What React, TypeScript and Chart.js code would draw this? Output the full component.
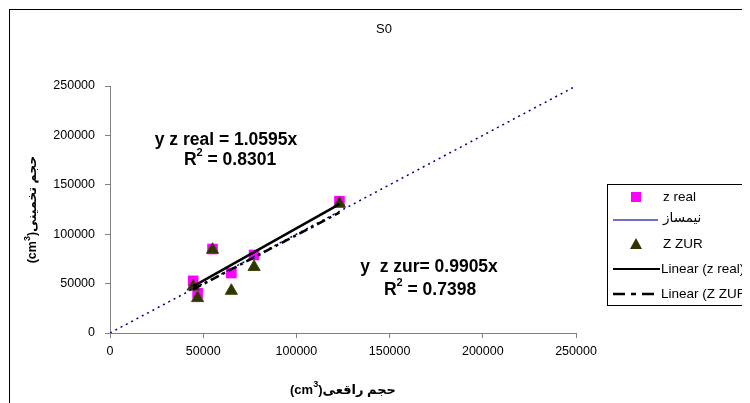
import React, { useEffect, useRef } from "react";
import { Chart, registerables } from "chart.js";

Chart.register(...registerables);

// ---- data ----
const realVolume = [44600, 47000, 55000, 65100, 77300, 123100];
const zRealValues = [52800, 40300, 85000, 60700, 79000, 133400];
const zZurValues = [47000, 35300, 84300, 42700, 66800, 130800];
const bisectorX = [0, 250000];
const bisectorY = [0, 250000];
const trendX = [44600, 123100];
const trendRealY = [47250, 130430];
const trendZurY = [44180, 121930];
const axisTicks = [0, 50000, 100000, 150000, 200000, 250000];
const seriesNames = ["z real", "نیمساز", "Z ZUR", "Linear (z real)", "Linear (Z ZUR)"];
const chartTitle = "S0";
const xTitleArabic = "حجم راقعی";
const yTitleArabic = "حجم تخمینی";
const eqRealLine = "y z real = 1.0595x";
const r2Real = "0.8301";
const eqZurLine = "y  z zur= 0.9905x";
const r2Zur = "0.7398";

const FONT = "'Liberation Sans', Arial, 'DejaVu Sans', sans-serif";
const PINK = "#FF00FF";
const TRI = "#333300";
const TRI_BORDER = "#3a4a10";
const NAVY = "#000080";
const DASH_DOT = [9, 4, 3, 4];

type Part = { t: string; f: string; dy: number };

function drawParts(ctx: CanvasRenderingContext2D, parts: Part[], cx: number, y: number) {
  let total = 0;
  const widths = parts.map((p) => {
    ctx.font = p.f;
    const w = ctx.measureText(p.t).width;
    total += w;
    return w;
  });
  let x = cx - total / 2;
  ctx.textAlign = "left";
  ctx.textBaseline = "middle";
  parts.forEach((p, i) => {
    ctx.font = p.f;
    ctx.fillText(p.t, x, y + p.dy);
    x += widths[i];
  });
}

const overlayPlugin = {
  id: "overlay",
  afterDraw(chart: any) {
    const ctx: CanvasRenderingContext2D = chart.ctx;
    const W = chart.width;
    const H = chart.height;
    ctx.save();
    ctx.direction = "ltr";
    ctx.fillStyle = "#000";
    // outer border
    ctx.strokeStyle = "#000";
    ctx.lineWidth = 1;
    ctx.strokeRect(1.5, 1.5, W + 10, H + 10);

    // title
    ctx.font = `13px ${FONT}`;
    ctx.textAlign = "center";
    ctx.textBaseline = "middle";
    ctx.fillText(chartTitle, 376, 21);

    const ca = chart.chartArea;
    const bold = (s: number) => `bold ${s}px ${FONT}`;

    // x title
    drawParts(
      ctx,
      [
        { t: "(cm", f: bold(13), dy: 0 },
        { t: "3", f: bold(9), dy: -5 },
        { t: ")", f: bold(13), dy: 0 },
        { t: xTitleArabic, f: bold(13), dy: 0 },
      ],
      (ca.left + ca.right) / 2,
      382
    );

    // y title
    ctx.save();
    ctx.translate(25, (ca.top + ca.bottom) / 2);
    ctx.rotate(-Math.PI / 2);
    drawParts(
      ctx,
      [
        { t: "(cm", f: bold(12.5), dy: 0 },
        { t: "3", f: bold(9), dy: -5 },
        { t: ")", f: bold(12.5), dy: 0 },
        { t: yTitleArabic, f: bold(12.5), dy: 0 },
      ],
      0,
      0
    );
    ctx.restore();

    // trendline equations
    const eqFont = bold(17.5);
    const supFont = bold(11);
    drawParts(ctx, [{ t: eqRealLine, f: eqFont, dy: 0 }], 218, 132);
    drawParts(
      ctx,
      [
        { t: "R", f: eqFont, dy: 0 },
        { t: "2", f: supFont, dy: -7 },
        { t: " = " + r2Real, f: eqFont, dy: 0 },
      ],
      222,
      152
    );
    drawParts(ctx, [{ t: eqZurLine, f: eqFont, dy: 0 }], 421, 259);
    drawParts(
      ctx,
      [
        { t: "R", f: eqFont, dy: 0 },
        { t: "2", f: supFont, dy: -7 },
        { t: " = " + r2Zur, f: eqFont, dy: 0 },
      ],
      422,
      282
    );

    // legend
    const lx = 599;
    const ly = 176;
    ctx.strokeStyle = "#000";
    ctx.lineWidth = 1;
    ctx.fillStyle = "#fff";
    ctx.fillRect(lx, ly, 300, 121);
    ctx.strokeRect(lx + 0.5, ly + 0.5, 300, 121);
    const rows = [189, 212, 236, 261, 286];
    const mx = 628;
    const tx = 655;
    // z real marker
    ctx.fillStyle = PINK;
    ctx.fillRect(mx - 5, rows[0] - 5, 10, 10);
    // bisector line
    ctx.strokeStyle = "#7070cc";
    ctx.lineWidth = 2;
    ctx.beginPath();
    ctx.moveTo(605, rows[1]);
    ctx.lineTo(650, rows[1]);
    ctx.stroke();
    // triangle
    ctx.fillStyle = TRI;
    ctx.beginPath();
    ctx.moveTo(mx, rows[2] - 6);
    ctx.lineTo(mx + 6, rows[2] + 5);
    ctx.lineTo(mx - 6, rows[2] + 5);
    ctx.closePath();
    ctx.fill();
    // linear real
    ctx.strokeStyle = "#000";
    ctx.lineWidth = 2;
    ctx.beginPath();
    ctx.moveTo(605, rows[3]);
    ctx.lineTo(652, rows[3]);
    ctx.stroke();
    // linear zur
    ctx.lineWidth = 2.5;
    ctx.setLineDash([12, 6, 5, 6]);
    ctx.beginPath();
    ctx.moveTo(605, rows[4]);
    ctx.lineTo(652, rows[4]);
    ctx.stroke();
    ctx.setLineDash([]);

    ctx.fillStyle = "#000";
    ctx.font = `13.5px ${FONT}`;
    ctx.textAlign = "left";
    ctx.textBaseline = "middle";
    ctx.fillText(seriesNames[0], tx, rows[0]);
    ctx.fillText(seriesNames[1], tx, rows[1] - 2);
    ctx.fillText(seriesNames[2], tx, rows[2]);
    ctx.fillText(seriesNames[3], 653, rows[3]);
    ctx.fillText(seriesNames[4], 653, rows[4]);

    ctx.restore();
  },
};

export default function App() {
  const ref = useRef<HTMLCanvasElement | null>(null);

  useEffect(() => {
    if (!ref.current) return;
    const toXY = (xs: number[], ys: number[]) => xs.map((x, i) => ({ x, y: ys[i] }));
    const tickCb = (v: any) => String(v);
    const chart = new Chart(ref.current, {
      type: "scatter",
      data: {
        datasets: [
          {
            label: seriesNames[3],
            data: toXY(trendX, trendRealY),
            showLine: true,
            borderColor: "#000",
            borderWidth: 2.5,
            pointRadius: 0,
          },
          {
            label: seriesNames[4],
            data: toXY(trendX, trendZurY),
            showLine: true,
            borderColor: "#000",
            borderWidth: 2.5,
            borderDash: DASH_DOT,
            pointRadius: 0,
          },
          {
            label: seriesNames[1],
            data: toXY(bisectorX, bisectorY),
            showLine: true,
            borderColor: NAVY,
            borderWidth: 1.5,
            borderDash: [2, 4],
            pointRadius: 0,
          },
          {
            label: seriesNames[2],
            data: toXY(realVolume, zZurValues),
            pointStyle: "triangle",
            pointRadius: 7,
            backgroundColor: TRI,
            borderColor: TRI_BORDER,
            borderWidth: 1,
          },
          {
            label: seriesNames[0],
            data: toXY(realVolume, zRealValues),
            pointStyle: "rect",
            pointRadius: 7.5,
            backgroundColor: PINK,
            borderColor: PINK,
            borderWidth: 0,
          },
        ],
      },
      options: {
        responsive: false,
        animation: false,
        devicePixelRatio: 1,
        layout: { padding: { left: 0, top: 78, right: 192, bottom: 0 } },
        plugins: {
          legend: { display: false },
          title: { display: false },
          tooltip: { enabled: false },
        },
        scales: {
          x: {
            type: "linear",
            min: 0,
            max: 250000,
            afterBuildTicks: (s: any) => {
              s.ticks = axisTicks.map((v) => ({ value: v }));
            },
            afterFit: (s: any) => {
              s.height = 85;
            },
            ticks: {
              callback: tickCb,
              color: "#000",
              font: { family: FONT, size: 12.5 },
              padding: 6,
              maxRotation: 0,
            },
            grid: {
              drawOnChartArea: false,
              drawTicks: true,
              tickLength: 5,
              color: "#808080",
            },
            border: { color: "#808080", width: 1 },
          },
          y: {
            type: "linear",
            min: 0,
            max: 250000,
            afterBuildTicks: (s: any) => {
              s.ticks = axisTicks.map((v) => ({ value: v }));
            },
            afterFit: (s: any) => {
              s.width = 102;
            },
            ticks: {
              callback: tickCb,
              color: "#000",
              font: { family: FONT, size: 12.5 },
              padding: 10,
            },
            grid: {
              drawOnChartArea: false,
              drawTicks: true,
              tickLength: 5,
              color: "#808080",
            },
            border: { color: "#808080", width: 1 },
          },
        },
      },
      plugins: [overlayPlugin],
    } as any);
    return () => chart.destroy();
  }, []);

  return (
    <div style={{ width: 742, height: 395, overflow: "hidden", background: "#fff" }}>
      <canvas ref={ref} width={760} height={410} style={{ display: "block" }} />
    </div>
  );
}
